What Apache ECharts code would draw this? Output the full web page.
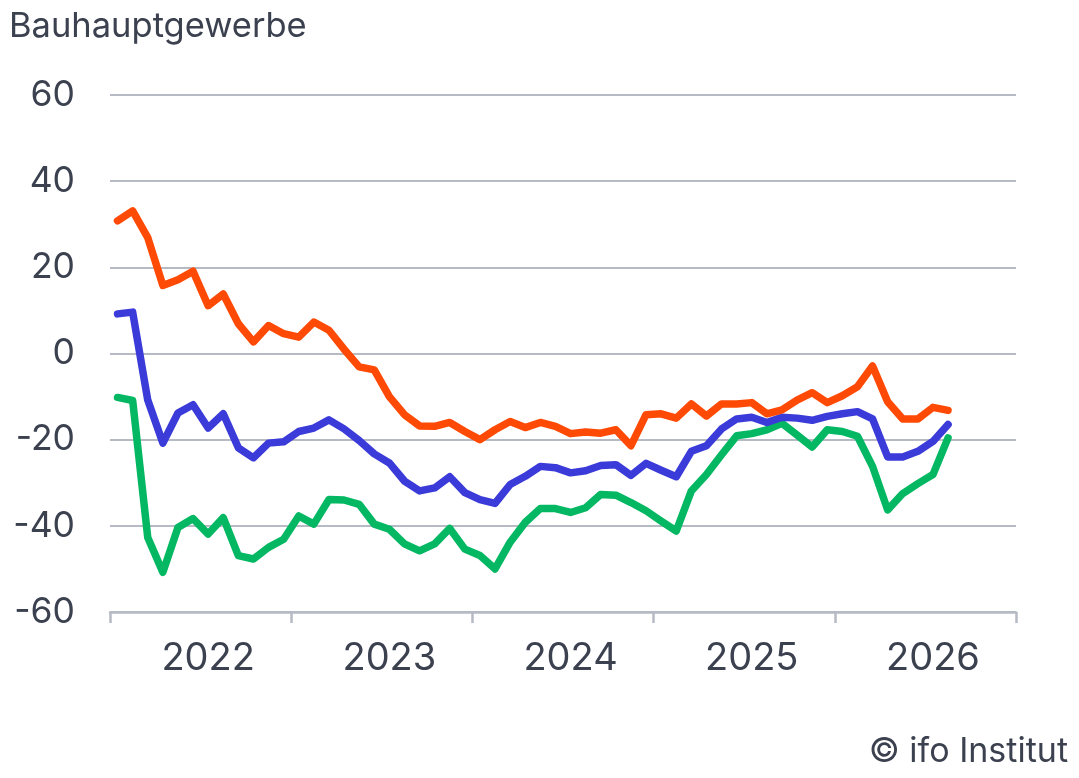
<!DOCTYPE html>
<html>
<head>
<meta charset="utf-8">
<title>Bauhauptgewerbe</title>
<script src="https://cdn.jsdelivr.net/npm/echarts@6/dist/echarts.min.js"></script>
<style>
    html, body { margin: 0; padding: 0; background: #fff; }
    #chart { width: 1079px; height: 778px; }
</style>
</head>
<body>
<div id="chart"></div>
<script>
// Monate Jan 2022 - Dez 2026, Daten bis Aug 2026
var years = ['2022', '2023', '2024', '2025', '2026'];
var months = ['01', '02', '03', '04', '05', '06', '07', '08', '09', '10', '11', '12'];

// Geschäftslage (rot)
var lage = [30.8, 33.1, 26.9, 15.8, 17.1, 19.1, 11.1, 13.8, 6.9, 2.7, 6.5, 4.6,
    3.8, 7.3, 5.4, 1.0, -3.1, -3.8, -10.0, -14.2, -16.8, -16.9, -16.0, -18.1,
    -20.0, -17.7, -15.8, -17.2, -16.0, -16.9, -18.6, -18.2, -18.5, -17.7, -21.4, -14.2,
    -14.0, -15.0, -11.7, -14.5, -11.7, -11.7, -11.4, -14.0, -13.1, -10.8, -9.1, -11.4,
    -9.8, -7.7, -2.9, -11.2, -15.2, -15.2, -12.5, -13.2];

// Geschäftsklima (blau)
var klima = [9.2, 9.6, -10.8, -20.8, -13.8, -11.9, -17.3, -14.0, -21.9, -24.2, -20.8, -20.5,
    -18.1, -17.3, -15.4, -17.5, -20.2, -23.3, -25.4, -29.6, -31.9, -31.2, -28.6, -32.3,
    -33.9, -34.8, -30.4, -28.5, -26.2, -26.5, -27.7, -27.2, -26.0, -25.8, -28.3, -25.5,
    -27.1, -28.6, -22.7, -21.4, -17.5, -15.2, -14.8, -16.0, -14.8, -15.0, -15.5, -14.6,
    -14.0, -13.5, -15.2, -24.0, -24.0, -22.7, -20.4, -16.5];

// Geschäftserwartungen (grün)
var erwartungen = [-10.2, -10.9, -42.7, -50.8, -40.4, -38.3, -41.9, -38.1, -46.9, -47.7, -45.0, -43.1,
    -37.7, -39.6, -33.9, -34.0, -35.0, -39.6, -40.8, -44.2, -45.8, -44.2, -40.6, -45.4,
    -46.9, -50.0, -43.8, -39.2, -36.0, -36.0, -36.9, -35.8, -32.7, -32.9, -34.6, -36.5,
    -38.9, -41.2, -31.9, -28.1, -23.5, -19.1, -18.6, -17.7, -16.2, -18.9, -21.7, -17.7,
    -18.1, -19.2, -26.2, -36.3, -32.5, -30.2, -28.1, -19.6];

var categories = [];
years.forEach(function (y) {
    months.forEach(function (m) {
        categories.push(y + '-' + m);
    });
});

var textColor = '#3c4150';
var gridColor = '#b6bac4';
var font = 'Inter';

function makeLine(name, data, color) {
    return {
        name: name,
        type: 'line',
        data: data,
        symbol: 'none',
        lineStyle: {
            color: color,
            width: 7.5,
            cap: 'round',
            join: 'round'
        },
        itemStyle: { color: color }
    };
}

var chart = echarts.init(document.getElementById('chart'));
var option = {
    animation: false,
    backgroundColor: '#fff',
    title: {
        text: 'Bauhauptgewerbe',
        left: 9,
        top: 9,
        padding: 0,
        textStyle: {
            fontFamily: font,
            fontSize: 34.5,
            fontWeight: 'normal',
            color: textColor
        }
    },
    graphic: [{
        type: 'text',
        right: 11,
        top: 735,
        style: {
            text: '© ifo Institut',
            fontFamily: font,
            fontSize: 34,
            fill: textColor
        }
    }],
    grid: {
        left: 110,
        right: 63,
        top: 95,
        bottom: 166
    },
    xAxis: {
        type: 'category',
        data: categories,
        boundaryGap: true,
        axisLine: {
            onZero: false,
            lineStyle: { color: gridColor, width: 2.5 }
        },
        axisTick: {
            show: true,
            length: 11,
            interval: 11,
            lineStyle: { color: gridColor, width: 2.5 }
        },
        axisLabel: {
            interval: function (idx) { return idx % 12 === 6; },
            formatter: function (v) { return v.slice(0, 4); },
            margin: 28,
            fontFamily: font,
            fontSize: 38,
            color: textColor
        },
        splitLine: { show: false }
    },
    yAxis: {
        type: 'value',
        min: -60,
        max: 60,
        interval: 20,
        axisLine: { show: false },
        axisTick: { show: false },
        axisLabel: {
            margin: 35,
            fontFamily: font,
            fontSize: 35.5,
            color: textColor
        },
        splitLine: { lineStyle: { color: gridColor, width: 2 } }
    },
    series: [
        makeLine('Geschäftserwartungen', erwartungen, '#04b863'),
        makeLine('Geschäftsklima', klima, '#3b3bd9'),
        makeLine('Geschäftslage', lage, '#ff4a05')
    ]
};
chart.setOption(option);
</script>
</body>
</html>
